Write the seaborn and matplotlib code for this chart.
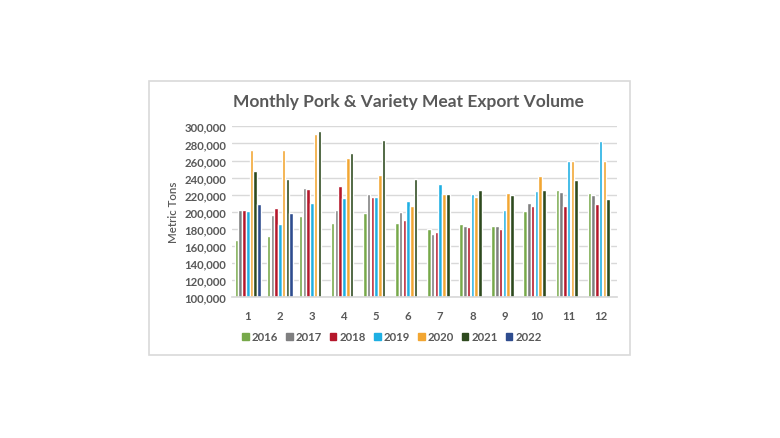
import matplotlib
matplotlib.use("Agg")
import matplotlib.pyplot as plt
import matplotlib.patches as mpatches
from matplotlib.ticker import FuncFormatter
import seaborn as sns
import pandas as pd
import numpy as np

months = list(range(1, 13))
years = ["2016", "2017", "2018", "2019", "2020", "2021", "2022"]
nan = np.nan
v2016 = [166700, 171300, 195500, 187300, 199000, 187300, 180000, 186200, 183800, 201000, 225100, 222000]
v2017 = [201800, 196700, 227500, 202500, 221200, 199800, 173700, 183400, 183400, 210700, 223600, 219300]
v2018 = [202500, 204900, 226700, 229800, 217000, 190400, 176800, 182300, 179500, 207200, 206800, 209600]
v2019 = [201000, 186200, 210300, 215800, 217700, 212700, 232600, 220500, 202100, 224800, 259100, 282500]
v2020 = [272300, 272300, 291400, 263400, 243100, 206400, 221200, 217700, 222000, 241900, 259100, 259100]
v2021 = [247400, 238800, 294200, 268400, 284000, 238000, 221200, 225100, 219300, 225900, 236800, 215400]
v2022 = [208800, 198200, nan, nan, nan, nan, nan, nan, nan, nan, nan, nan]
series = [v2016, v2017, v2018, v2019, v2020, v2021, v2022]
colors = ["#77A94A", "#7F7F80", "#B5172B", "#1EAFE3", "#F2A632", "#2E4A1E", "#2E4C8E"]

rows = []
for y, vals in zip(years, series):
    for m, v in zip(months, vals):
        rows.append({"Month": str(m), "Year": y, "Value": v})
df = pd.DataFrame(rows)

sns.set_theme(style="white")
plt.rcParams["font.family"] = ["Lato", "DejaVu Sans"]
txt = "#595959"

fig = plt.figure(figsize=(7.8, 4.39), dpi=100)
# outer border box
fig.patches.append(mpatches.Rectangle((148.5 / 780, 1 - 355.5 / 439), (630 - 148.5) / 780, (355.5 - 81.5) / 439,
                                      transform=fig.transFigure, fill=False, edgecolor="#D9D9D9", linewidth=1.2))
ax = fig.add_axes([231.7 / 780, 1 - 298.3 / 439, (616.7 - 231.7) / 780, (298.3 - 127.3) / 439])

sns.barplot(data=df, x="Month", y="Value", hue="Year", hue_order=years, order=[str(m) for m in months],
            palette=colors, width=0.82, gap=0.06, ax=ax, legend=False, saturation=1)

ax.set_ylim(100000, 300000)
ax.set_yticks(np.arange(100000, 300001, 20000))
ax.yaxis.set_major_formatter(FuncFormatter(lambda v, p: f"{int(v):,}"))
ax.grid(axis="y", color="#D9D9D9", linewidth=1)
ax.set_axisbelow(True)
for s in ["top", "right", "left"]:
    ax.spines[s].set_visible(False)
ax.spines["bottom"].set_color("#D9D9D9")
ax.tick_params(axis="both", length=0, labelcolor=txt, labelsize=8.2)
for lab in ax.get_xticklabels() + ax.get_yticklabels():
    lab.set_fontweight("bold")
ax.tick_params(axis="x", pad=9)
ax.tick_params(axis="y", pad=4)
ax.set_xlabel("")
ax.set_ylabel("Metric Tons", color=txt, fontsize=8.3, fontweight="semibold", labelpad=4)

fig.text(408 / 780, 1 - 102.5 / 439, "Monthly Pork & Variety Meat Export Volume", ha="center", va="center",
         fontsize=12.5, fontweight="bold", color=txt)

handles = [mpatches.Patch(color=c, label=y) for c, y in zip(colors, years)]
leg = fig.legend(handles=handles, loc="center", bbox_to_anchor=(392 / 780, 1 - 338 / 439), ncol=7,
                 frameon=False, handlelength=0.6, handleheight=0.6, handletextpad=0.3, columnspacing=0.65,
                 prop={"size": 8.2, "weight": "bold"})
for t in leg.get_texts():
    t.set_color(txt)

fig.savefig("out.png", dpi=100, facecolor="white")
